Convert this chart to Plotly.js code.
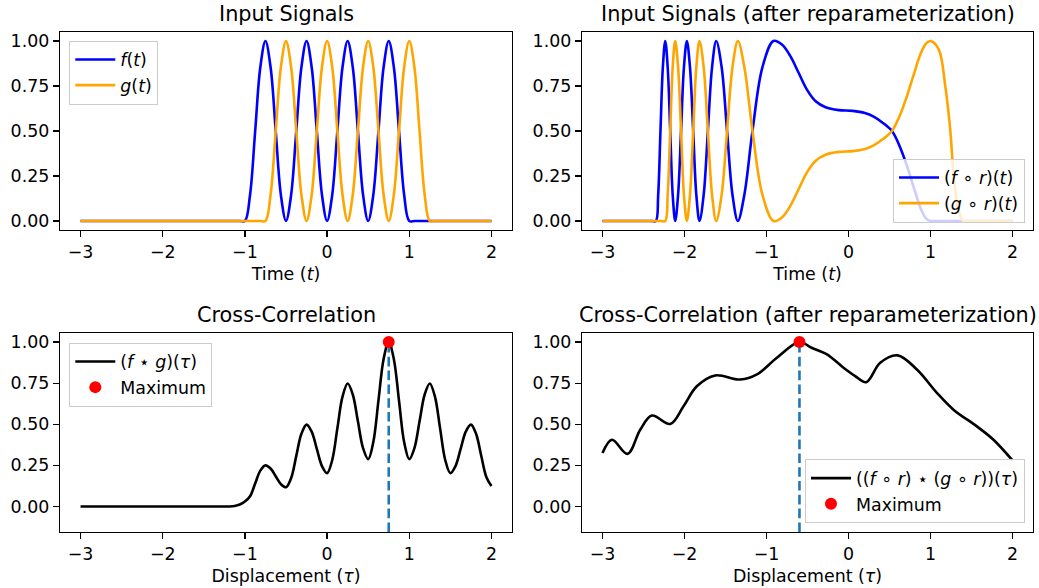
<!DOCTYPE html>
<html>
<head>
<meta charset="utf-8">
<script src="https://cdn.plot.ly/plotly-3.0.1.min.js"></script>
<style>html,body{margin:0;padding:0;background:#fff;}#chart{width:1039px;height:588px;}</style>
</head>
<body>
<div id="chart"></div>
<script>
// ---- Data ----
// Panel 1: input signals
const tInput = [-3, -1.0625, -1, -0.9375, -0.875, -0.8125, -0.75, -0.6875, -0.625, -0.5625, -0.5, -0.4375, -0.375, -0.3125, -0.25, -0.1875, -0.125, -0.0625, 0, 0.0625, 0.125, 0.1875, 0.25, 0.3125, 0.375, 0.4375, 0.5, 0.5625, 0.625, 0.6875, 0.75, 0.8125, 0.875, 0.9375, 1, 1.0625, 1.125, 1.1875, 1.25, 1.3125, 2];
const fVals = [0, 0, 0, 0.146, 0.5, 0.854, 1, 0.854, 0.5, 0.146, 0, 0.146, 0.5, 0.854, 1, 0.854, 0.5, 0.146, 0, 0.146, 0.5, 0.854, 1, 0.854, 0.5, 0.146, 0, 0.146, 0.5, 0.854, 1, 0.854, 0.5, 0.146, 0, 0, 0, 0, 0, 0, 0];
const gVals = [0, 0, 0, 0, 0, 0, 0, 0.146, 0.5, 0.854, 1, 0.854, 0.5, 0.146, 0, 0.146, 0.5, 0.854, 1, 0.854, 0.5, 0.146, 0, 0.146, 0.5, 0.854, 1, 0.854, 0.5, 0.146, 0, 0.146, 0.5, 0.854, 1, 0.854, 0.5, 0.146, 0, 0, 0];

// Panel 2: reparameterized signals
const tFr = [-3, -2.40, -2.35, -2.321, -2.293, -2.264, -2.235, -2.205, -2.174, -2.144, -2.113, -2.078, -2.042, -2.007, -1.971, -1.933, -1.894, -1.856, -1.817, -1.766, -1.715, -1.664, -1.613, -1.547, -1.481, -1.415, -1.349, -1.27, -1.171, -1.05, -0.915, -0.812, -0.711, -0.61, -0.507, -0.40, -0.28, -0.12, 0.05, 0.2, 0.307, 0.42, 0.53, 0.62, 0.71, 0.80, 0.88, 0.95, 1.0, 1.06, 2];
const frVals = [0, 0, 0, 0.146, 0.5, 0.854, 1, 0.854, 0.5, 0.146, 0, 0.146, 0.5, 0.854, 1, 0.854, 0.5, 0.146, 0, 0.146, 0.5, 0.854, 1, 0.854, 0.5, 0.146, 0, 0.146, 0.5, 0.854, 1, 0.98, 0.917, 0.825, 0.73, 0.665, 0.632, 0.616, 0.612, 0.60, 0.58, 0.545, 0.50, 0.42, 0.31, 0.18, 0.07, 0.012, 0, 0, 0];
const tGr = [-3, -2.29, -2.235, -2.205, -2.174, -2.144, -2.113, -2.078, -2.042, -2.007, -1.971, -1.933, -1.894, -1.856, -1.817, -1.766, -1.715, -1.664, -1.613, -1.547, -1.481, -1.415, -1.349, -1.27, -1.171, -1.05, -0.915, -0.812, -0.711, -0.61, -0.507, -0.40, -0.28, -0.12, 0.05, 0.2, 0.307, 0.42, 0.53, 0.62, 0.71, 0.80, 0.88, 0.95, 1.0, 1.10, 1.18, 1.24, 1.28, 1.34, 1.40, 1.46, 2];
const grVals = [0, 0, 0, 0.146, 0.5, 0.854, 1, 0.854, 0.5, 0.146, 0, 0.146, 0.5, 0.854, 1, 0.854, 0.5, 0.146, 0, 0.146, 0.5, 0.854, 1, 0.854, 0.5, 0.146, 0, 0.02, 0.083, 0.175, 0.27, 0.335, 0.368, 0.384, 0.388, 0.40, 0.42, 0.455, 0.50, 0.58, 0.69, 0.82, 0.93, 0.988, 1, 0.954, 0.75, 0.51, 0.27, 0.065, 0, 0, 0];

// Panel 3: cross-correlation
const tauCorr = [-3, -1.25, -1.1875, -1.125, -1.0625, -1, -0.9375, -0.875, -0.8125, -0.75, -0.6875, -0.625, -0.5625, -0.5, -0.4375, -0.375, -0.3125, -0.25, -0.1875, -0.125, -0.0625, 0, 0.0625, 0.125, 0.1875, 0.25, 0.3125, 0.375, 0.4375, 0.5, 0.5625, 0.625, 0.6875, 0.75, 0.8125, 0.875, 0.9375, 1, 1.0625, 1.125, 1.1875, 1.25, 1.3125, 1.375, 1.4375, 1.5, 1.5625, 1.625, 1.6875, 1.75, 1.8125, 1.875, 1.9375, 2];
const corrVals = [0, 0, 0, 0.003, 0.012, 0.03, 0.062, 0.14, 0.218, 0.25, 0.231, 0.184, 0.136, 0.117, 0.173, 0.308, 0.442, 0.498, 0.455, 0.35, 0.246, 0.203, 0.283, 0.475, 0.668, 0.748, 0.681, 0.518, 0.355, 0.288, 0.392, 0.644, 0.896, 1.0, 0.896, 0.644, 0.392, 0.288, 0.355, 0.518, 0.681, 0.748, 0.668, 0.475, 0.283, 0.203, 0.246, 0.35, 0.455, 0.498, 0.442, 0.31, 0.18, 0.125];

// Panel 4: cross-correlation after reparameterization
const tauCorrR = [-3.0, -2.885, -2.695, -2.54, -2.398, -2.174, -2.012, -1.85, -1.626, -1.32, -1.117, -0.873, -0.598, -0.45, -0.263, -0.061, 0.082, 0.216, 0.387, 0.598, 0.834, 1.078, 1.28, 1.566, 1.768, 2.0];
const corrRVals = [0.325, 0.406, 0.32, 0.467, 0.553, 0.502, 0.61, 0.731, 0.797, 0.772, 0.803, 0.905, 1.0, 0.965, 0.925, 0.844, 0.793, 0.756, 0.874, 0.919, 0.833, 0.691, 0.589, 0.487, 0.406, 0.28];

const xTicks = [-3, -2, -1, 0, 1, 2];
const yTicks = [0, 0.25, 0.5, 0.75, 1.0];
const panelTitles = ['Input Signals', 'Input Signals (after reparameterization)', 'Cross-Correlation', 'Cross-Correlation (after reparameterization)'];

// ---- Build ----
const FONT = 'DejaVu Sans, sans-serif';
const FS = 17.4;
const LW = 2.6;
const xRange = [-3.25, 2.25];
const yRangeTop = [-0.05, 1.05];
const yRangeBot = [-0.155, 1.055];

function argmax(a) { let k = 0; for (let i = 1; i < a.length; i++) if (a[i] > a[k]) k = i; return k; }
const m1 = argmax(corrVals), m2 = argmax(corrRVals);
const DASH = '9.6px,4.2px';

const traces = [
  {x: tInput, y: fVals, name: '<i>f</i>(<i>t</i>)', mode: 'lines', line: {color: 'blue', width: LW, shape: 'spline'}, xaxis: 'x', yaxis: 'y', legend: 'legend'},
  {x: tInput, y: gVals, name: '<i>g</i>(<i>t</i>)', mode: 'lines', line: {color: 'orange', width: LW, shape: 'spline'}, xaxis: 'x', yaxis: 'y', legend: 'legend'},
  {x: tFr, y: frVals, name: '(<i>f</i> ∘ <i>r</i>)(<i>t</i>)', mode: 'lines', line: {color: 'blue', width: LW, shape: 'spline'}, xaxis: 'x2', yaxis: 'y2', legend: 'legend2'},
  {x: tGr, y: grVals, name: '(<i>g</i> ∘ <i>r</i>)(<i>t</i>)', mode: 'lines', line: {color: 'orange', width: LW, shape: 'spline'}, xaxis: 'x2', yaxis: 'y2', legend: 'legend2'},
  {x: tauCorr, y: corrVals, name: '(<i>f</i> ⋆ <i>g</i>)(<i>τ</i>)', mode: 'lines', line: {color: 'black', width: LW, shape: 'spline'}, xaxis: 'x3', yaxis: 'y3', legend: 'legend3'},
  {x: [tauCorr[m1], tauCorr[m1]], y: [yRangeBot[0], corrVals[m1]], mode: 'lines', line: {color: '#1f77b4', width: LW, dash: DASH}, xaxis: 'x3', yaxis: 'y3', showlegend: false},
  {x: [tauCorr[m1]], y: [corrVals[m1]], name: 'Maximum', mode: 'markers', marker: {color: 'red', size: 12}, xaxis: 'x3', yaxis: 'y3', legend: 'legend3'},
  {x: tauCorrR, y: corrRVals, name: '((<i>f</i> ∘ <i>r</i>) ⋆ (<i>g</i> ∘ <i>r</i>))(<i>τ</i>)', mode: 'lines', line: {color: 'black', width: LW, shape: 'spline'}, xaxis: 'x4', yaxis: 'y4', legend: 'legend4'},
  {x: [tauCorrR[m2], tauCorrR[m2]], y: [yRangeBot[0], corrRVals[m2]], mode: 'lines', line: {color: '#1f77b4', width: LW, dash: DASH}, xaxis: 'x4', yaxis: 'y4', showlegend: false},
  {x: [tauCorrR[m2]], y: [corrRVals[m2]], name: 'Maximum', mode: 'markers', marker: {color: 'red', size: 12}, xaxis: 'x4', yaxis: 'y4', legend: 'legend4'}
];

const PW = 973, PH = 500, ML = 60, MT = 32;
const dL = [0, 452 / PW], dR = [522 / PW, 1];
const dT = [1 - 198 / PH, 1], dB = [0, 199 / PH];

function xax(domain, anchor, title) {
  return {domain: domain, anchor: anchor, range: xRange, tickvals: xTicks, showline: true, mirror: true, linecolor: 'black', linewidth: 1.2,
    ticks: 'outside', ticklen: 6, tickwidth: 1.2, tickcolor: 'black', showgrid: false, zeroline: false,
    tickfont: {family: FONT, size: FS, color: 'black'},
    title: {text: title, font: {family: FONT, size: FS, color: 'black'}, standoff: 6}};
}
function yax(domain, anchor, range) {
  return {domain: domain, anchor: anchor, range: range, tickvals: yTicks, tickformat: '.2f', showline: true, mirror: true, linecolor: 'black', linewidth: 1.2,
    ticks: 'outside', ticklen: 6, tickwidth: 1.2, tickcolor: 'black', showgrid: false, zeroline: false,
    tickfont: {family: FONT, size: FS, color: 'black'}};
}
function leg(x, y, xa, ya) {
  return {x: x, y: y, xanchor: xa, yanchor: ya, bgcolor: 'rgba(255,255,255,0.8)', bordercolor: '#cccccc', borderwidth: 1,
    font: {family: FONT, size: FS, color: 'black'}, itemwidth: 40, tracegroupgap: 0};
}
function px(x) { return (x - ML) / PW; }
function py(y) { return (MT + PH - y) / PH; }

const titleFont = {family: FONT, size: 20.8, color: 'black'};
const annotations = [
  {text: panelTitles[0], x: (dL[0] + dL[1]) / 2, y: dT[1]},
  {text: panelTitles[1], x: (dR[0] + dR[1]) / 2, y: dT[1]},
  {text: panelTitles[2], x: (dL[0] + dL[1]) / 2, y: dB[1]},
  {text: panelTitles[3], x: (dR[0] + dR[1]) / 2, y: dB[1]}
].map(a => Object.assign(a, {xref: 'paper', yref: 'paper', xanchor: 'center', yanchor: 'bottom', yshift: 4, showarrow: false, font: titleFont}));

const layout = {
  width: 1039, height: 588,
  margin: {l: ML, r: 1039 - ML - PW, t: MT, b: 588 - MT - PH, pad: 0},
  paper_bgcolor: 'white', plot_bgcolor: 'white',
  font: {family: FONT, size: FS, color: 'black'},
  xaxis: xax(dL, 'y', 'Time (<i>t</i>)'),
  yaxis: yax(dT, 'x', yRangeTop),
  xaxis2: xax(dR, 'y2', 'Time (<i>t</i>)'),
  yaxis2: yax(dT, 'x2', yRangeTop),
  xaxis3: xax(dL, 'y3', 'Displacement (<i>τ</i>)'),
  yaxis3: yax(dB, 'x3', yRangeBot),
  xaxis4: xax(dR, 'y4', 'Displacement (<i>τ</i>)'),
  yaxis4: yax(dB, 'x4', yRangeBot),
  legend: leg(px(69.3), py(40.7), 'left', 'top'),
  legend2: leg(px(1025), py(222.7), 'right', 'bottom'),
  legend3: leg(px(69.3), py(342.7), 'left', 'top'),
  legend4: leg(px(1025), py(523.3), 'right', 'bottom'),
  annotations: annotations,
  showlegend: true
};

Plotly.newPlot('chart', traces, layout, {staticPlot: true, displayModeBar: false});
</script>
</body>
</html>
